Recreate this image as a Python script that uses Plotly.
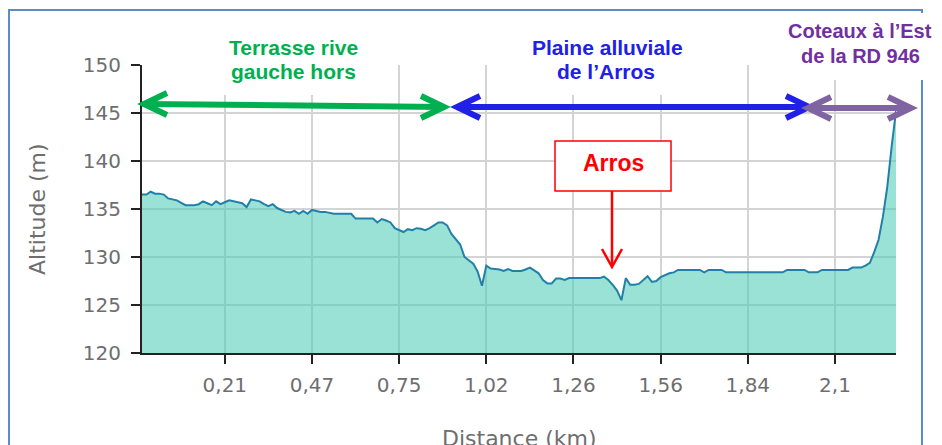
import plotly.graph_objects as go

# ---------------- data ----------------
altitude = [
    136.5, 136.5, 136.8, 136.6, 136.6, 136.5, 136.1, 136.0, 135.9, 135.65,
    135.4, 135.4, 135.4, 135.5, 135.8, 135.6, 135.4, 135.8, 135.5, 135.7,
    135.9, 135.8, 135.7, 135.6, 135.2, 136.0, 135.9, 135.8, 135.5, 135.3,
    135.5, 135.1, 134.9, 134.7, 134.65, 134.8, 134.5, 134.8, 134.5, 134.9,
    134.8, 134.7, 134.7, 134.6, 134.5, 134.5, 134.5, 134.5, 134.5, 134.0,
    134.0, 134.0, 134.0, 134.0, 133.6, 133.95, 133.8, 133.6, 133.0, 132.8,
    132.6, 132.9, 132.8, 133.0, 132.95, 132.8, 133.0, 133.3, 133.6, 133.6,
    133.3, 132.4, 131.8, 131.3, 130.0, 129.6, 129.3, 128.5, 127.0, 129.1,
    128.8, 128.75, 128.7, 128.55, 128.75, 128.55, 128.55, 128.55, 128.7, 128.9,
    128.6, 128.3, 127.6, 127.25, 127.25, 127.75, 127.75, 127.6, 127.8, 127.8,
    127.8, 127.8, 127.8, 127.8, 127.8, 127.8, 127.95, 127.6, 127.1, 126.5,
    125.5, 127.8, 127.1, 127.1, 127.2, 127.6, 128.0, 127.4, 127.5, 127.9,
    128.1, 128.3, 128.4, 128.65, 128.65, 128.65, 128.65, 128.65, 128.65, 128.4,
    128.65, 128.65, 128.65, 128.65, 128.4, 128.4, 128.4, 128.4, 128.4, 128.4,
    128.4, 128.4, 128.4, 128.4, 128.4, 128.4, 128.4, 128.4, 128.65, 128.65,
    128.65, 128.65, 128.65, 128.4, 128.4, 128.4, 128.65, 128.65, 128.65, 128.65,
    128.65, 128.65, 128.65, 128.9, 128.9, 128.9, 129.1, 129.4, 130.5, 131.8,
    134.2, 137.3, 141.5, 145.2,
]
sample_index = list(range(len(altitude)))

tick_samples = [19, 39, 59, 79, 99, 119, 139, 159]
tick_labels = ["0,21", "0,47", "0,75", "1,02", "1,26", "1,56", "1,84", "2,1"]
y_ticks = [120, 125, 130, 135, 140, 145, 150]

zone_green = ["Terrasse rive", "gauche hors"]
zone_blue = ["Plaine alluviale", "de l\u2019Arros"]
zone_purple = ["Coteaux \u00e0 l\u2019Est", "de la RD 946"]
river_label = "Arros"
x_title = "Distance (km)"
y_title = "Altitude (m)"

# ---------------- layout helpers (screen pixel -> paper) ----------------
OFF = 8                      # page body margin of the browser
SW, SH = 942, 445            # screen size
W, H = SW - OFF, SH - OFF    # figure size
L, R, T, B = 142, 896, 65, 353   # plot area in screen pixels


def X(px):
    return (px - L) / (R - L)


def Y(py):
    return (B - py) / (B - T)


GREEN = "#00b050"
BLUE = "#2020e6"
PURPLE_T = "#7030a0"
PURPLE_A = "#8064a2"
RED = "#ff0000"
GRAY = "#6e6e6e"

fig = go.Figure()
fig.add_trace(go.Scatter(
    x=sample_index, y=altitude, mode="lines",
    line=dict(color="#2280a8", width=2),
    fill="tozeroy", fillcolor="rgba(73,202,180,0.55)",
    hoverinfo="skip", showlegend=False,
))

shapes = []
# outer frame
shapes.append(dict(type="rect", xref="paper", yref="paper",
                   x0=X(9), x1=X(922), y0=Y(480), y1=Y(10),
                   line=dict(color="#5b8cc8", width=2), fillcolor="rgba(0,0,0,0)",
                   layer="above"))
# white boxes behind zone labels (hide gridlines)
for x0, x1, y1 in [(193, 394, 95), (506, 707, 95), (760, 932, 80)]:
    shapes.append(dict(type="rect", xref="paper", yref="paper",
                       x0=X(x0), x1=X(x1), y0=Y(y1), y1=Y(13),
                       line=dict(width=0), fillcolor="white", layer="above"))


def seg(x0, y0, x1, y1, color, width):
    return dict(type="line", xref="paper", yref="paper",
                x0=X(x0), y0=Y(y0), x1=X(x1), y1=Y(y1),
                line=dict(color=color, width=width), layer="above")


def chevron(tx, ty, direction, color, width, dx=23, dy=11, inset=4):
    if direction == "left":
        vx, vy = tx + inset, ty
        a = (vx + dx, vy - dy)
        b = (vx + dx, vy + dy)
    elif direction == "right":
        vx, vy = tx - inset, ty
        a = (vx - dx, vy - dy)
        b = (vx - dx, vy + dy)
    else:
        vx, vy = tx, ty - inset
        a = (vx - dy, vy - dx)
        b = (vx + dy, vy - dx)
    path = "M {} {} L {} {} L {} {}".format(X(a[0]), Y(a[1]), X(vx), Y(vy), X(b[0]), Y(b[1]))
    return dict(type="path", xref="paper", yref="paper", path=path,
                line=dict(color=color, width=width), layer="above")


AW = 6
# green double arrow
shapes.append(seg(144, 104, 443, 107, GREEN, AW))
shapes.append(chevron(140, 104, "left", GREEN, AW))
shapes.append(chevron(448, 107, "right", GREEN, AW))
# blue double arrow
shapes.append(seg(457, 107, 808, 107, BLUE, AW))
shapes.append(chevron(453, 107, "left", BLUE, AW))
shapes.append(chevron(813, 107, "right", BLUE, AW))
# purple double arrow
shapes.append(seg(808, 108, 911, 108, PURPLE_A, AW))
shapes.append(chevron(804, 108, "left", PURPLE_A, AW))
shapes.append(chevron(915, 108, "right", PURPLE_A, AW))

# Arros box + arrow
shapes.append(dict(type="rect", xref="paper", yref="paper",
                   x0=X(555), x1=X(671), y0=Y(191), y1=Y(141),
                   line=dict(color=RED, width=1.5), fillcolor="white", layer="above"))
shapes.append(seg(612, 191, 612, 265, RED, 2.5))
shapes.append(chevron(612, 268, "down", RED, 2.5, dx=18, dy=10, inset=1))

annotations = []


def label(text, px, py, color, size=21):
    annotations.append(dict(text="<b>" + text + "</b>", xref="paper", yref="paper",
                            x=X(px), y=Y(py), xanchor="center", yanchor="middle",
                            showarrow=False,
                            font=dict(family="Arial, Liberation Sans", size=size, color=color)))


label(zone_green[0], 293, 47, GREEN)
label(zone_green[1], 293, 71, GREEN)
label(zone_blue[0], 607, 47, BLUE)
label(zone_blue[1], 606, 71, BLUE)
label(zone_purple[0], 860, 31, PURPLE_T, size=20)
label(zone_purple[1], 860, 56, PURPLE_T, size=20)
label(river_label, 613, 163, RED, size=23)

annotations.append(dict(text=y_title, xref="paper", yref="paper",
                        x=X(37), y=Y(209), xanchor="center", yanchor="middle",
                        textangle=-90, showarrow=False,
                        font=dict(family="Verdana, DejaVu Sans", size=22, color=GRAY)))
annotations.append(dict(text=x_title, xref="paper", yref="paper",
                        x=X(519), y=Y(424), xanchor="center", yanchor="top",
                        showarrow=False,
                        font=dict(family="Verdana, DejaVu Sans", size=22, color=GRAY)))

axis_common = dict(
    showgrid=True, gridcolor="#d4d4d4", gridwidth=1.5,
    showline=True, linecolor="#222222", linewidth=2,
    ticks="outside", ticklen=9, tickwidth=2, tickcolor="#222222",
    tickfont=dict(family="Verdana, DejaVu Sans", size=20, color=GRAY),
    zeroline=False, fixedrange=True,
)

fig.update_layout(
    width=W, height=H,
    margin=dict(l=L - OFF, r=SW - R, t=T - OFF, b=SH - B, autoexpand=False),
    paper_bgcolor="white", plot_bgcolor="white",
    xaxis=dict(range=[0, len(altitude) - 1], tickmode="array",
               tickvals=tick_samples, ticktext=tick_labels,
               ticklabelstandoff=4, **axis_common),
    yaxis=dict(range=[y_ticks[0], y_ticks[-1]], tickmode="array",
               tickvals=y_ticks, ticktext=[str(v) for v in y_ticks],
               ticklabelstandoff=6, **axis_common),
    shapes=shapes, annotations=annotations,
    showlegend=False,
)

fig.write_html("out.html")
